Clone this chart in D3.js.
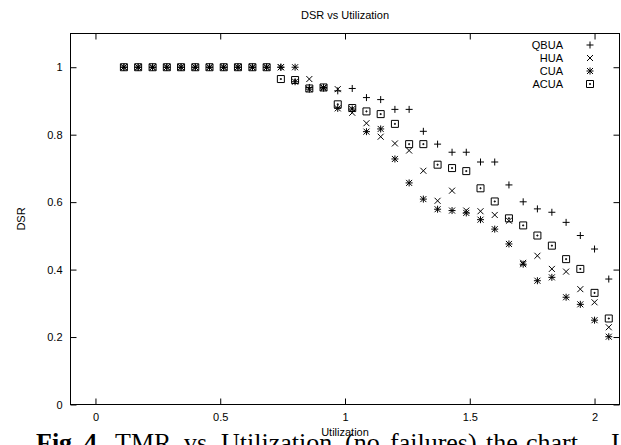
<!DOCTYPE html>
<html>
<head>
<meta charset="utf-8">
<script src="https://cdn.jsdelivr.net/npm/d3@7"></script>
<style>
  html, body { margin: 0; padding: 0; background: #fff; overflow: hidden; }
  svg { display: block; }
  text { font-family: "Liberation Sans", Arial, Helvetica, sans-serif; }
</style>
</head>
<body>
<svg id="chart" width="621" height="445"></svg>
<script>
// Utilization values (x) shared by all series
const utilization = [0.114, 0.171, 0.229, 0.286, 0.343, 0.400, 0.457, 0.514, 0.571, 0.629,
  0.686, 0.743, 0.800, 0.857, 0.914, 0.971, 1.029, 1.086, 1.143, 1.200,
  1.257, 1.314, 1.371, 1.429, 1.486, 1.543, 1.600, 1.657, 1.714, 1.771,
  1.829, 1.886, 1.943, 2.000, 2.057];

// DSR per algorithm
const qbua = [1, 1, 1, 1, 1, 1, 1, 1, 1, 1,
  1, 1, 1, 0.94, 0.94, 0.93, 0.937, 0.91, 0.904, 0.875,
  0.875, 0.81, 0.772, 0.748, 0.748, 0.719, 0.719, 0.651, 0.601, 0.58,
  0.57, 0.54, 0.501, 0.461, 0.372];
const hua = [1, 1, 1, 1, 1, 1, 1, 1, 1, 1,
  1, 1, 1, 0.965, 0.94, 0.935, 0.865, 0.834, 0.794, 0.774,
  0.753, 0.693, 0.604, 0.634, 0.575, 0.573, 0.562, 0.545, 0.42, 0.441,
  0.402, 0.394, 0.342, 0.303, 0.229];
const cua = [1, 1, 1, 1, 1, 1, 1, 1, 1, 1,
  1, 1, 0.957, 0.935, 0.938, 0.878, 0.876, 0.809, 0.817, 0.728,
  0.657, 0.609, 0.579, 0.575, 0.568, 0.548, 0.52, 0.476, 0.416, 0.367,
  0.377, 0.318, 0.297, 0.25, 0.201];
const acua = [1, 1, 1, 1, 1, 1, 1, 1, 1, 1,
  1, 0.965, 0.962, 0.937, 0.94, 0.89, 0.879, 0.869, 0.861, 0.832,
  0.772, 0.772, 0.711, 0.701, 0.692, 0.641, 0.602, 0.552, 0.531, 0.501,
  0.471, 0.431, 0.402, 0.331, 0.255];

const seriesNames = ["QBUA", "HUA", "CUA", "ACUA"];
const seriesValues = [qbua, hua, cua, acua];
const seriesMarkers = ["plus", "cross", "star", "box"];

const xTicks = [0, 0.5, 1, 1.5, 2];
const yTicks = [0, 0.2, 0.4, 0.6, 0.8, 1];

// caption words (justified line, so each word has its own start)
const captionWords = ["Fig.", "4.", "TMR", "vs", "Utilization", "(no", "failures),", "the", "chart", "I"];
const captionStarts = [36, 84, 115, 184, 221, 345, 390, 486, 526, 611];

const svg = d3.select("#chart");
const plotLeft = 70.5, plotRight = 619.5, plotTop = 33.5, plotBottom = 404.5;

const x = d3.scaleLinear().domain([-0.1, 2.1]).range([plotLeft, plotRight]);
const y = d3.scaleLinear().domain([0, 1.1]).range([plotBottom, plotTop]);

// point glyph paths, centred on 0,0
function markerPath(kind) {
  const p = d3.path();
  const a = 3.5, c = 3;
  if (kind === "plus" || kind === "star") {
    p.moveTo(-a, 0); p.lineTo(a, 0);
    p.moveTo(0, -a); p.lineTo(0, a);
  }
  if (kind === "cross" || kind === "star") {
    p.moveTo(-c, -c); p.lineTo(c, c);
    p.moveTo(-c, c); p.lineTo(c, -c);
  }
  if (kind === "box") {
    p.rect(-3.5, -3.5, 7, 7);
    p.rect(-0.5, -0.5, 1, 1);
  }
  return p.toString();
}

// axes: ticks point inward, mirrored on top and right
const fmt = d3.format("");
const axisStyle = g => {
  g.select(".domain").remove();
  g.selectAll("line").attr("stroke", "#000").attr("stroke-width", 1);
  g.selectAll("text").attr("fill", "#000")
    .style("font-family", '"Liberation Sans", Arial, sans-serif')
    .style("font-size", "11px");
};

svg.append("g").attr("transform", `translate(0,${plotBottom})`)
  .call(d3.axisBottom(x).tickValues(xTicks).tickFormat(fmt).tickSize(-6).tickPadding(9))
  .call(axisStyle);
svg.append("g").attr("transform", `translate(0,${plotTop})`)
  .call(d3.axisTop(x).tickValues(xTicks).tickFormat("").tickSize(-6))
  .call(axisStyle);
svg.append("g").attr("transform", `translate(${plotLeft},0)`)
  .call(d3.axisLeft(y).tickValues(yTicks).tickFormat(fmt).tickSize(-6).tickPadding(8))
  .call(axisStyle);
svg.append("g").attr("transform", `translate(${plotRight},0)`)
  .call(d3.axisRight(y).tickValues(yTicks).tickFormat("").tickSize(-6))
  .call(axisStyle);

// plot frame
svg.append("rect")
  .attr("x", plotLeft).attr("y", plotTop)
  .attr("width", plotRight - plotLeft).attr("height", plotBottom - plotTop)
  .attr("fill", "none").attr("stroke", "#000").attr("stroke-width", 1);

// data points
seriesValues.forEach((vals, i) => {
  svg.append("g").selectAll("path")
    .data(vals.map((v, j) => [utilization[j], v]))
    .join("path")
    .attr("d", markerPath(seriesMarkers[i]))
    .attr("transform", d => `translate(${x(d[0])},${y(d[1])})`)
    .attr("fill", "none")
    .attr("stroke", "#000")
    .attr("stroke-width", 1);
});

// legend
const legend = svg.append("g");
seriesNames.forEach((name, i) => {
  const ly = 45 + i * 13;
  legend.append("text")
    .attr("x", 563).attr("y", ly + 4)
    .attr("text-anchor", "end")
    .style("font-size", "11px")
    .text(name);
  legend.append("path")
    .attr("d", markerPath(seriesMarkers[i]))
    .attr("transform", `translate(590,${ly})`)
    .attr("fill", "none").attr("stroke", "#000").attr("stroke-width", 1);
});

// titles
svg.append("text")
  .attr("x", (plotLeft + plotRight) / 2).attr("y", 19)
  .attr("text-anchor", "middle")
  .style("font-size", "11px")
  .text("DSR vs Utilization");

svg.append("text")
  .attr("transform", `translate(25,${(plotTop + plotBottom) / 2}) rotate(-90)`)
  .attr("text-anchor", "middle")
  .style("font-size", "11px")
  .text("DSR");

// figure caption, running below the plot
const caption = svg.append("text")
  .attr("y", 451)
  .style("font-family", '"Liberation Serif", "Times New Roman", serif')
  .style("font-size", "26px");
captionWords.forEach((w, i) => {
  caption.append("tspan")
    .attr("x", captionStarts[i])
    .style("font-weight", i < 2 ? "bold" : "normal")
    .text(w);
});

svg.append("text")
  .attr("x", (plotLeft + plotRight) / 2).attr("y", 436)
  .attr("text-anchor", "middle")
  .style("font-size", "11px")
  .text("Utilization");
</script>
</body>
</html>
